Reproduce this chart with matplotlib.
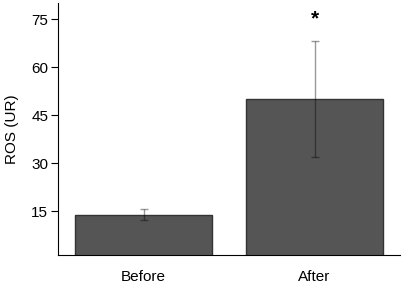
import matplotlib.pyplot as plt

plt.rcParams['font.family'] = ['Liberation Sans', 'DejaVu Sans']

# ROS before / after
groups = ['Before', 'After']
means = [13.9, 50.0]
errors = [1.7, 18.0]

fig = plt.figure(figsize=(4.03, 2.83), dpi=100)
ax = fig.add_axes([0.144, 0.099, 0.849, 0.890])

x = range(len(groups))
ax.bar(x, means, width=0.8, color='#555555', edgecolor='#333333', linewidth=1.0, zorder=2)
ax.errorbar(x, means, yerr=errors, fmt='none', ecolor='black', alpha=0.4,
            elinewidth=1.0, capsize=3, capthick=1.0, zorder=3)

# significance mark
ax.text(1, means[1] + errors[1] + 7, '*', ha='center', va='center',
        fontsize=15, fontweight='bold')

ax.set_xlim(-0.5, 1.5)
ax.set_ylim(1.25, 80)
ax.set_yticks([15, 30, 45, 60, 75])
ax.set_xticks(list(x))
ax.set_xticklabels(groups, fontsize=11)
ax.set_ylabel('ROS (UR)', fontsize=11, labelpad=9)

ax.spines['top'].set_visible(False)
ax.spines['right'].set_visible(False)
ax.tick_params(axis='x', length=0, pad=11)
ax.tick_params(axis='y', length=5, labelsize=11, pad=2)

plt.savefig('out.png', dpi=100)
